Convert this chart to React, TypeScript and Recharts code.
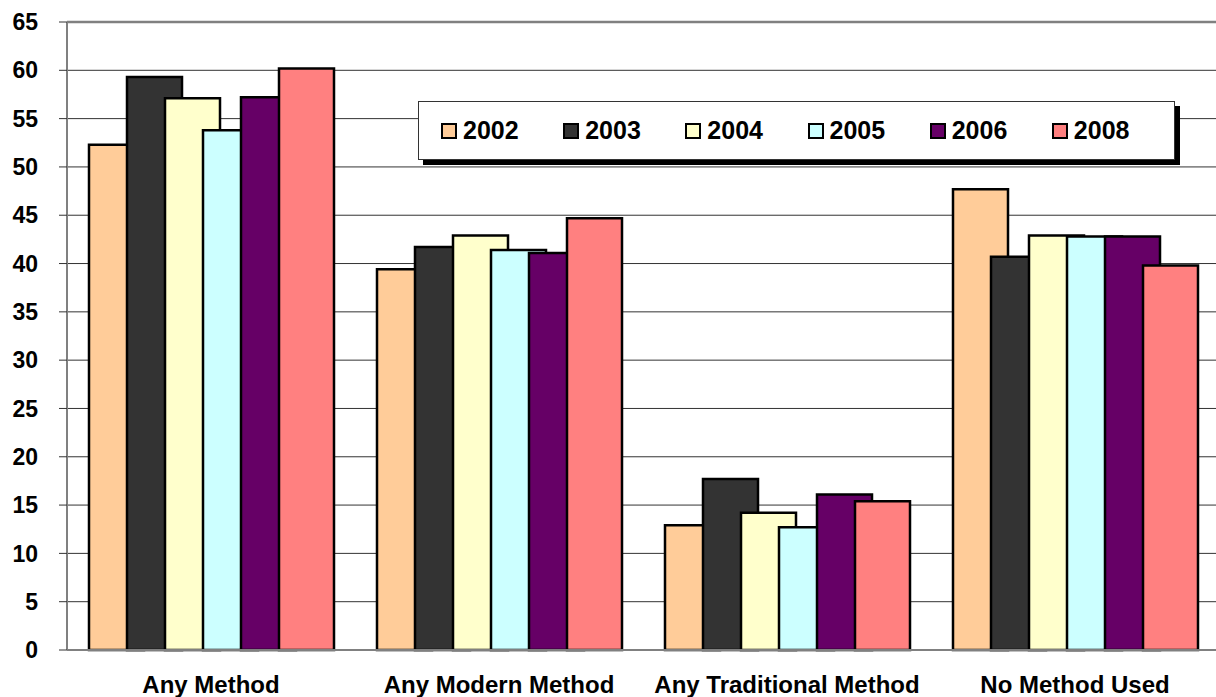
import React from 'react';
import { BarChart, Bar, XAxis, YAxis, CartesianGrid, Legend, ReferenceLine } from 'recharts';

const categories = ['Any Method', 'Any Modern Method', 'Any Traditional Method', 'No Method Used'];
const years = ['2002', '2003', '2004', '2005', '2006', '2008'];
const v2002 = [52.3, 39.4, 12.9, 47.7];
const v2003 = [59.3, 41.7, 17.7, 40.7];
const v2004 = [57.1, 42.9, 14.2, 42.9];
const v2005 = [53.8, 41.4, 12.7, 42.8];
const v2006 = [57.2, 41.1, 16.1, 42.8];
const v2008 = [60.2, 44.7, 15.4, 39.8];
const yTicks = [0, 5, 10, 15, 20, 25, 30, 35, 40, 45, 50, 55, 60, 65];
const boundaryTicks = [0, 1, 2, 3];
const colors = ['#FFCC99', '#333333', '#FFFFCC', '#CCFFFF', '#660066', '#FF8080'];

const seriesValues = [v2002, v2003, v2004, v2005, v2006, v2008];
const data = categories.map((c, i) => {
  const row: Record<string, any> = { name: c };
  years.forEach((y, j) => {
    row[y] = seriesValues[j][i];
  });
  return row;
});

const FONT = '"Liberation Sans", Arial, sans-serif';

const renderLegend = () => (
  <div
    style={{
      boxSizing: 'border-box',
      width: '100%',
      height: '100%',
      border: '1px solid #333',
      background: '#fff',
      boxShadow: '5px 5px 0 #000',
      display: 'flex',
      alignItems: 'center',
      paddingLeft: 22,
      fontFamily: FONT,
      fontWeight: 'bold',
      fontSize: 25,
      color: '#000',
    }}
  >
    {years.map((y, i) => (
      <div key={y} style={{ width: 126, display: 'flex', alignItems: 'center' }}>
        <span
          style={{
            display: 'inline-block',
            boxSizing: 'border-box',
            width: 16,
            height: 16,
            background: colors[i],
            border: '2px solid #000',
            marginRight: 6,
          }}
        />
        <span style={{ lineHeight: '25px' }}>{y}</span>
      </div>
    ))}
  </div>
);

export default function App() {
  return (
    <div
      style={{
        position: 'absolute',
        left: 0,
        top: 0,
        width: 1216,
        height: 697,
        overflow: 'hidden',
        background: '#fff',
      }}
    >
      <BarChart
        width={1219}
        height={697}
        data={data}
        margin={{ top: 22, right: 0, left: 0, bottom: 0 }}
        barSize={55}
        barGap={-17}
      >
        <CartesianGrid vertical={false} stroke="#333" strokeWidth={1} />
        <XAxis
          xAxisId="out"
          type="number"
          domain={[0, 4]}
          ticks={boundaryTicks}
          tick={false}
          axisLine={false}
          tickLine={{ stroke: '#666', strokeWidth: 1.5 }}
          tickSize={8}
          height={0}
        />
        <XAxis
          xAxisId="in"
          type="number"
          domain={[0, 4]}
          ticks={boundaryTicks}
          tick={false}
          axisLine={false}
          mirror
          tickLine={{ stroke: '#666', strokeWidth: 1.5 }}
          tickSize={8}
          height={0}
        />
        <XAxis
          dataKey="name"
          height={47}
          interval={0}
          tickLine={false}
          tickSize={0}
          tickMargin={26}
          axisLine={{ stroke: '#808080', strokeWidth: 2 }}
          tick={{ fill: '#000', fontSize: 24, fontWeight: 'bold', fontFamily: FONT }}
        />
        <YAxis
          type="number"
          domain={[0, 65]}
          ticks={yTicks}
          interval={0}
          width={67}
          tickSize={8}
          tickMargin={21}
          axisLine={{ stroke: '#808080', strokeWidth: 2 }}
          tickLine={{ stroke: '#333' }}
          tick={{ fill: '#000', fontSize: 23, fontWeight: 'bold', fontFamily: FONT }}
        />
        <ReferenceLine y={65} stroke="#808080" strokeWidth={2.5} />
        <Legend
          layout="horizontal"
          verticalAlign="middle"
          align="center"
          content={renderLegend}
          wrapperStyle={{ left: 418, top: 101, width: 757, height: 59 }}
        />
        {years.map((y, i) => (
          <Bar
            key={y}
            dataKey={y}
            fill={colors[i]}
            stroke="#000"
            strokeWidth={2.5}
            isAnimationActive={false}
          />
        ))}
      </BarChart>
    </div>
  );
}
